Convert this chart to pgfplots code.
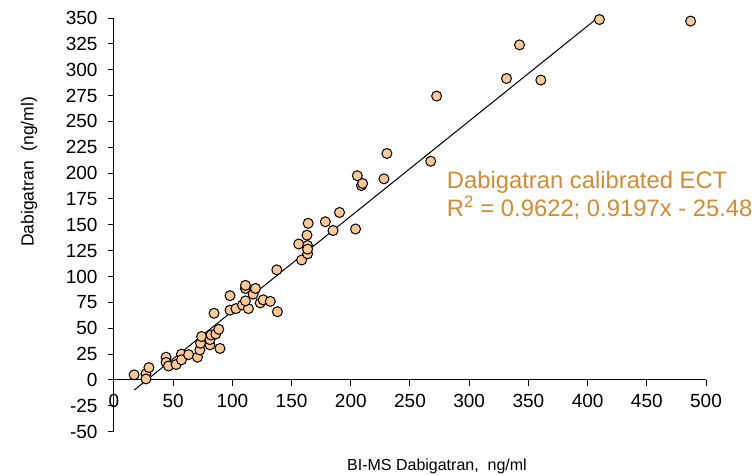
\documentclass[border=0pt]{standalone}
\usepackage{fontspec}
\setmainfont{Liberation Sans}
\usepackage{pgfplots}
\pgfplotsset{compat=1.18}
\definecolor{markfill}{RGB}{252,200,150}
\definecolor{annot}{RGB}{212,140,50}
\newcommand{\tlfont}{\fontsize{19bp}{22bp}\selectfont}
\begin{document}
\begin{tikzpicture}
\begin{axis}[
  scale only axis, width=592bp, height=413.7bp,
  xmin=0, xmax=500, ymin=-50, ymax=350,
  axis x line=middle, axis y line=left,
  axis line style={-, line width=1bp, black},
  hide obscured x ticks=false, hide obscured y ticks=false,
  xtick={0,50,...,500}, ytick={-50,-25,...,350},
  minor tick num=0,
  tick align=outside, major tick length=6bp,
  tick style={line width=1bp, black},
  /pgf/number format/assume math mode=true,
  tick label style={font=\tlfont},
  xticklabel={\tlfont\pgfmathprintnumber{\tick}},
  yticklabel={\tlfont\pgfmathprintnumber{\tick}},
  xticklabel style={yshift=-5bp},
  yticklabel style={xshift=-7bp},
  xlabel={BI-MS Dabigatran,\ \ ng/ml},
  ylabel={Dabigatran\ \ (ng/ml)},
  xlabel style={font=\fontsize{16bp}{19bp}\selectfont, at={(axis description cs:0.5456,-0.083)}, anchor=center},
  ylabel style={font=\fontsize{17.5bp}{20bp}\selectfont, at={(axis description cs:-0.1436,0.628)}, anchor=center},
  clip=false,
]
\addplot[only marks, mark=*, mark size=5bp,
  mark options={fill=markfill, draw=black, line width=1bp}] table {
x y
17 5
27 6
29.5 12
27 1
44 22
44 17
46 13.5
52.5 15
57 25
57 19.5
63 24.5
70.5 22
72.5 29
73 35.5
74 42
81 34
81 39
82 43.5
86 44.5
88.5 49
89.5 30.5
84.5 64.5
98 81.5
98 67.5
103 69
108.5 72.5
111 88.5
111 91.5
113.5 69
111 76.5
117.5 83
119.5 88.5
123.5 74.5
126 77.5
132 76
138 66
137.5 106.5
156 131.5
158.5 116
163.5 130
163.5 122
163.5 126.5
163 140
164 151.5
178.5 153
185 144.5
190.5 162
204 146
205.5 197.5
209 188
210 190
228 194.5
230.5 219
267.5 211.5
272.5 274.5
331.5 291.5
342.5 324
360.5 290
410 348.5
487 347
};
\addplot[black, line width=1bp] coordinates {(17.2,-9.66) (408,349.7)};
\node[anchor=base west, inner sep=0, text=annot, font=\fontsize{23.8bp}{28bp}\selectfont] at (axis cs:281,185.4) {Dabigatran calibrated ECT};
\node[anchor=base west, inner sep=0, text=annot, font=\fontsize{23.8bp}{28bp}\selectfont] at (axis cs:281,157.9) {R\textsuperscript{2} = 0.9622; 0.9197x - 25.48};
\coordinate (A) at (rel axis cs:0,0);
\coordinate (B) at (rel axis cs:1,1);
\end{axis}
\pgfresetboundingbox
\path[use as bounding box] ([shift={(-114bp,-43.3bp)}]A) rectangle ([shift={(48bp,18bp)}]B);
\end{tikzpicture}
\end{document}
